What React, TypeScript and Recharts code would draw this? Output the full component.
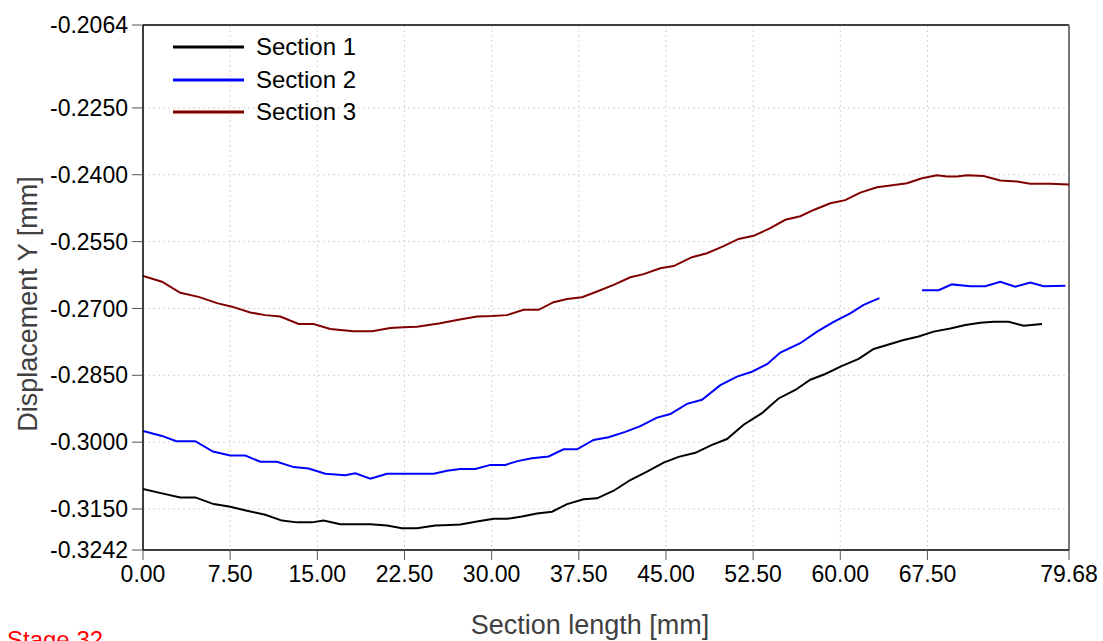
import React from 'react';
import { LineChart, Line, XAxis, YAxis, CartesianGrid, Legend, ReferenceLine } from 'recharts';

const FONT = 'Arial, "Liberation Sans", sans-serif';

// axis ticks as shown on the plot
const xTicks = [0, 7.5, 15, 22.5, 30, 37.5, 45, 52.5, 60, 67.5, 79.68];
const yTicks = [-0.3242, -0.315, -0.3, -0.285, -0.27, -0.255, -0.24, -0.225, -0.2064];

const seriesNames = ['Section 1', 'Section 2', 'Section 3'];
const seriesColors = ['#000000', '#0000ff', '#800000'];

// Section 1 (black)
const sec1Len = [
  0, 1.63, 3.21, 4.5, 6.08, 7.51, 8.95, 10.52, 11.96, 13.25, 14.54, 15.54, 16.98, 19.56, 21.0, 22.29, 23.58, 25.15,
  26.44, 27.3, 28.74, 30.17, 31.32, 32.61, 33.9, 35.19, 36.49, 37.91, 39.07, 40.5, 41.93, 43.37, 44.8, 46.09, 47.53,
  48.96, 50.25, 51.68, 53.26, 54.69, 56.13, 57.42, 58.71, 60.15, 61.58, 62.87, 64.02, 65.45, 66.74, 68.03, 69.47,
  70.76, 72.05, 73.19, 74.49, 75.78, 77.36,
];
const sec1Disp = [
  -0.3105, -0.3115, -0.3124, -0.3124, -0.3139, -0.3145, -0.3154, -0.3163, -0.3176, -0.318, -0.318, -0.3176, -0.3184,
  -0.3184, -0.3187, -0.3193, -0.3193, -0.3187, -0.3186, -0.3185, -0.3178, -0.3172, -0.3172, -0.3167, -0.316, -0.3156,
  -0.3139, -0.3128, -0.3126, -0.3109, -0.3085, -0.3066, -0.3046, -0.3033, -0.3024, -0.3006, -0.2993, -0.2961, -0.2935,
  -0.2902, -0.2883, -0.286, -0.2847, -0.2829, -0.2813, -0.2791, -0.2782, -0.2771, -0.2763, -0.2752, -0.2745, -0.2737,
  -0.2732, -0.273, -0.273, -0.2739, -0.2735,
];

// Section 2 (blue), first part up to the gap
const sec2aLen = [
  0, 1.63, 2.87, 4.5, 6.02, 7.51, 8.8, 10.09, 11.53, 12.96, 14.25, 15.69, 17.41, 18.27, 19.56, 21.0, 22.14, 25.01,
  26.16, 27.3, 28.59, 29.89, 31.18, 32.32, 33.47, 34.9, 36.19, 37.35, 38.77, 40.06, 41.5, 42.79, 44.23, 45.37, 46.81,
  48.1, 49.68, 51.11, 52.4, 53.7, 54.84, 56.56, 58.0, 59.43, 60.86, 62.01, 63.36,
];
const sec2aDisp = [
  -0.2975, -0.2986, -0.2998, -0.2998, -0.3021, -0.303, -0.303, -0.3044, -0.3044, -0.3056, -0.3059, -0.3071, -0.3074,
  -0.307, -0.3082, -0.3071, -0.3071, -0.3071, -0.3064, -0.306, -0.306, -0.3051, -0.3051, -0.3042, -0.3036, -0.3032,
  -0.3016, -0.3016, -0.2995, -0.2989, -0.2977, -0.2964, -0.2945, -0.2937, -0.2914, -0.2905, -0.2872, -0.2853, -0.2842,
  -0.2825, -0.2799, -0.2778, -0.2752, -0.273, -0.2711, -0.2692, -0.2677,
];
// Section 2, part after the gap
const sec2bLen = [67.03, 68.46, 69.61, 71.19, 72.48, 73.77, 75.06, 76.35, 77.5, 79.37];
const sec2bDisp = [-0.2659, -0.2659, -0.2646, -0.265, -0.265, -0.264, -0.2651, -0.2642, -0.265, -0.2649];

// Section 3 (dark red)
const sec3Len = [
  0, 1.63, 3.21, 4.78, 6.37, 7.66, 9.23, 10.52, 11.81, 13.39, 14.68, 16.12, 18.12, 19.71, 21.28, 22.42, 23.58, 25.58,
  27.02, 28.74, 30.03, 31.32, 32.75, 34.04, 35.33, 36.49, 37.78, 39.07, 40.5, 41.93, 43.08, 44.51, 45.66, 47.24, 48.53,
  49.96, 51.25, 52.54, 53.98, 55.27, 56.56, 57.71, 59.14, 60.43, 61.72, 63.16, 64.31, 65.74, 67.03, 68.32, 69.18,
  70.04, 70.91, 72.33, 73.77, 75.21, 76.35, 78.07, 79.68,
];
const sec3Disp = [
  -0.2627, -0.264, -0.2665, -0.2674, -0.2688, -0.2696, -0.2709, -0.2715, -0.2718, -0.2735, -0.2735, -0.2746, -0.2751,
  -0.2751, -0.2744, -0.2742, -0.2741, -0.2733, -0.2726, -0.2718, -0.2717, -0.2715, -0.2703, -0.2703, -0.2686, -0.2679,
  -0.2675, -0.2662, -0.2647, -0.263, -0.2623, -0.261, -0.2605, -0.2585, -0.2576, -0.256, -0.2544, -0.2537, -0.252,
  -0.2501, -0.2493, -0.2479, -0.2464, -0.2457, -0.244, -0.2428, -0.2424, -0.2419, -0.2408, -0.2401, -0.2404, -0.2404,
  -0.2401, -0.2403, -0.2413, -0.2415, -0.242, -0.242, -0.2422,
];

const toPoints = (xs: number[], ys: number[]) => xs.map((x, i) => ({ x, y: ys[i] }));

const sec1 = toPoints(sec1Len, sec1Disp);
const sec2a = toPoints(sec2aLen, sec2aDisp);
const sec2b = toPoints(sec2bLen, sec2bDisp);
const sec3 = toPoints(sec3Len, sec3Disp);

function LegendBox() {
  return (
    <div style={{ fontFamily: FONT, fontSize: 24, color: '#000' }}>
      {seriesNames.map((name, i) => (
        <div key={name} style={{ display: 'flex', alignItems: 'center', height: 32.5 }}>
          <svg width={71} height={4} style={{ display: 'block' }}>
            <line x1={0} y1={2} x2={71} y2={2} stroke={seriesColors[i]} strokeWidth={3} />
          </svg>
          <span style={{ marginLeft: 12, whiteSpace: 'nowrap' }}>{name}</span>
        </div>
      ))}
    </div>
  );
}

const yTitle = () => (
  <text
    x={28}
    y={304}
    transform="rotate(-90, 28, 304)"
    textAnchor="middle"
    dominantBaseline="central"
    fontSize={27}
    fill="#404040"
    fontFamily={FONT}
  >
    Displacement Y [mm]
  </text>
);

const xTitle = () => (
  <g fontFamily={FONT}>
    <text x={590} y={634} textAnchor="middle" fontSize={27} fill="#404040">
      Section length [mm]
    </text>
    <text x={7} y={648} fontSize={24} fill="#ff0000">
      Stage 32
    </text>
  </g>
);

export default function App() {
  return (
    <div style={{ position: 'absolute', left: 0, top: 0, width: 1103, height: 641, background: '#fff' }}>
      <LineChart
        width={1103}
        height={641}
        margin={{ top: 25, right: 34, bottom: 0, left: 0 }}
        style={{ fontFamily: FONT }}
      >
        <CartesianGrid stroke="#d4d4d4" strokeDasharray="2 3" />
        <XAxis
          type="number"
          dataKey="x"
          domain={[0, 79.68]}
          ticks={xTicks}
          interval={0}
          allowDataOverflow
          height={91}
          tickFormatter={(v: number) => v.toFixed(2)}
          tick={{ fontSize: 23, fill: '#000' }}
          tickSize={10}
          tickMargin={6}
          axisLine={{ stroke: '#000', strokeWidth: 1.5 }}
          tickLine={{ stroke: '#555' }}
          label={xTitle}
        />
        <YAxis
          type="number"
          dataKey="y"
          domain={[-0.3242, -0.2064]}
          ticks={yTicks}
          interval={0}
          allowDataOverflow
          width={143}
          tickFormatter={(v: number) => v.toFixed(4)}
          tick={{ fontSize: 23, fill: '#000' }}
          tickSize={11}
          tickMargin={4}
          axisLine={{ stroke: '#000', strokeWidth: 1.5 }}
          tickLine={{ stroke: '#555' }}
          label={yTitle}
        />
        <ReferenceLine y={-0.2064} stroke="#000" strokeWidth={1.5} />
        <ReferenceLine x={79.68} stroke="#777" strokeWidth={2} />
        <Legend
          layout="horizontal"
          verticalAlign="middle"
          align="center"
          content={LegendBox}
          wrapperStyle={{ top: 31, left: 173, width: 'auto', height: 'auto' }}
        />
        <Line data={sec1} dataKey="y" name={seriesNames[0]} stroke={seriesColors[0]} strokeWidth={2} dot={false} isAnimationActive={false} />
        <Line data={sec2a} dataKey="y" name={seriesNames[1]} stroke={seriesColors[1]} strokeWidth={2} dot={false} isAnimationActive={false} />
        <Line data={sec2b} dataKey="y" name="Section 2b" legendType="none" stroke={seriesColors[1]} strokeWidth={2} dot={false} isAnimationActive={false} />
        <Line data={sec3} dataKey="y" name={seriesNames[2]} stroke={seriesColors[2]} strokeWidth={2} dot={false} isAnimationActive={false} />
      </LineChart>
    </div>
  );
}
